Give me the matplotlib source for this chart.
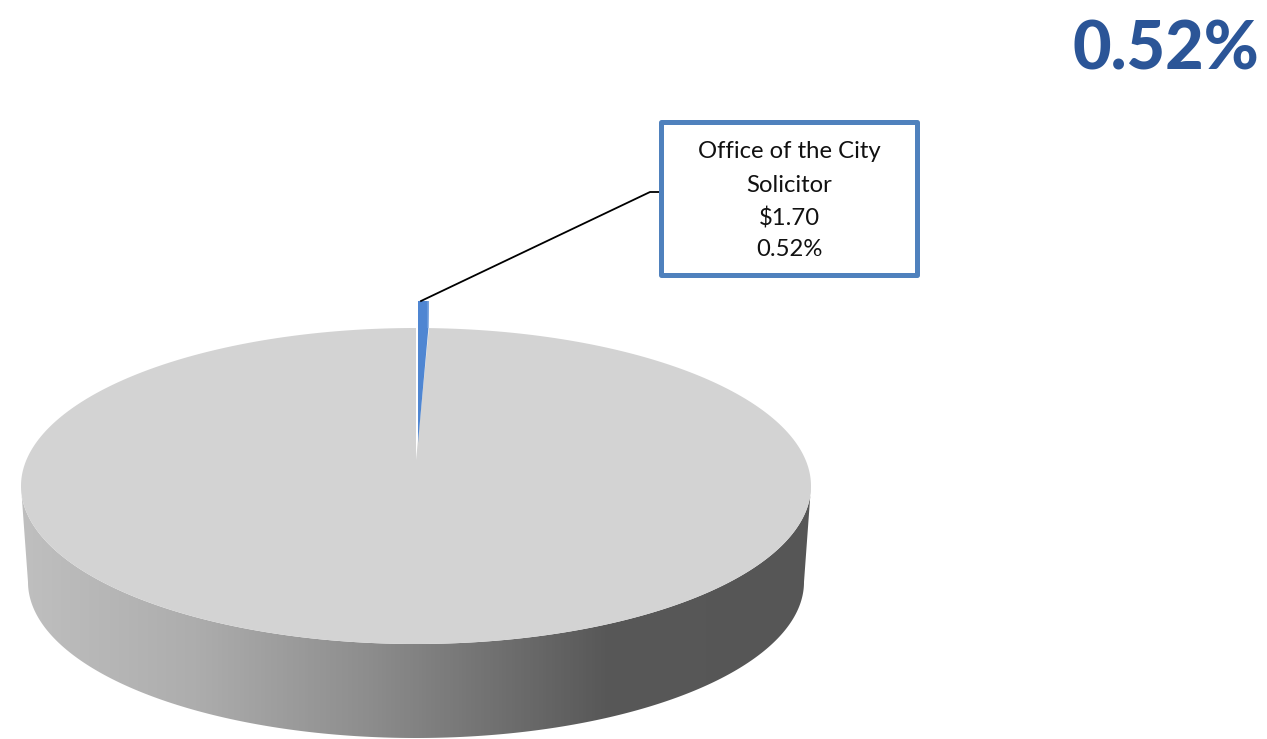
import numpy as np
import matplotlib
matplotlib.use("Agg")
import matplotlib.pyplot as plt
from matplotlib.patches import Polygon, Rectangle
from matplotlib.colors import LinearSegmentedColormap

# Data
categories = ["Office of the City Solicitor", "All other departments"]
values = [1.70, 325.22]
label_amount = "$1.70"
label_share = "0.52%"
headline = "0.52%"

W, H = 1267, 739
fig = plt.figure(figsize=(W / 100, H / 100), dpi=100)
ax = fig.add_axes([0, 0, 1, 1])
ax.set_xlim(0, W)
ax.set_ylim(H, 0)
ax.axis("off")

# Pie geometry (perspective view)
cx, cy, a, b = 416, 486, 395, 158
apex_y = 460
bx, by, ba, bb = 416, 582, 388, 156
explode_tip = (418, 443)
explode_lift = 27

shares = np.array(values) / sum(values)
sweep = shares[0] * 2 * np.pi


def arc(t0, t1, x0=cx, y0=cy, ra=a, rb=b, n=400):
    t = np.linspace(t0, t1, n)
    return np.column_stack([x0 + ra * np.sin(t), y0 - rb * np.cos(t)])


# Side wall with horizontal gradient
top_front = arc(np.pi / 2, 3 * np.pi / 2)
bottom_front = arc(3 * np.pi / 2, np.pi / 2, bx, by, ba, bb)
side = Polygon(np.vstack([top_front, bottom_front]), closed=True,
               facecolor="none", edgecolor="none")
ax.add_patch(side)
stops = [(0.0, "#bfbfbf"), (0.22, "#adadad"), (0.44, "#8d8d8d"),
         (0.61, "#6f6f6f"), (0.74, "#585858"), (1.0, "#565656")]
cmap = LinearSegmentedColormap.from_list("side", stops)
im = ax.imshow(np.linspace(0, 1, 512).reshape(1, -1), cmap=cmap, aspect="auto",
               extent=(21, 811, H + 5, 480), zorder=1)
im.set_clip_path(side)
ax.set_xlim(0, W)
ax.set_ylim(H, 0)

# Main slice
rest = np.vstack([[cx, apex_y], arc(sweep, 2 * np.pi)])
ax.add_patch(Polygon(rest, closed=True, facecolor="#d3d3d3", edgecolor="none", zorder=2))

# Exploded slice
tip_x = explode_tip[0]
right_x = cx + a * np.sin(sweep)
lift_y = cy - b - explode_lift
ax.add_patch(Polygon([explode_tip, (tip_x, lift_y), (right_x, lift_y), (right_x - 0.5, cy - b)],
                     closed=True, facecolor="#4f86d2", edgecolor="none", zorder=3))
ax.add_patch(Polygon([(right_x - 1.5, lift_y), (right_x, lift_y),
                      (right_x - 0.5, cy - b), (right_x - 1.5, cy - b)],
                     closed=True, facecolor="#7ba6e0", edgecolor="none", zorder=4))

# Leader line
ax.plot([421, 650, 660], [301, 192, 192], color="black", lw=1.3, zorder=5,
        solid_joinstyle="round")

# Callout box
ax.add_patch(Rectangle((661, 121.5), 256, 153, facecolor="white", edgecolor="#4f81bd",
                       lw=3.6, zorder=6, joinstyle="round"))
lines = ["Office of the City", "Solicitor", label_amount, label_share]
for s, y in zip(lines, [152, 185, 218, 250]):
    ax.text(789, y, s, ha="center", va="center", fontsize=17.2, family="Lato",
            color="#111111", zorder=7)

# Headline
ax.text(1259, 69, headline, ha="right", va="baseline", fontsize=48, family="Lato",
        fontweight="black", color="#2b5597", zorder=7)

fig.savefig("out.png", dpi=100)
